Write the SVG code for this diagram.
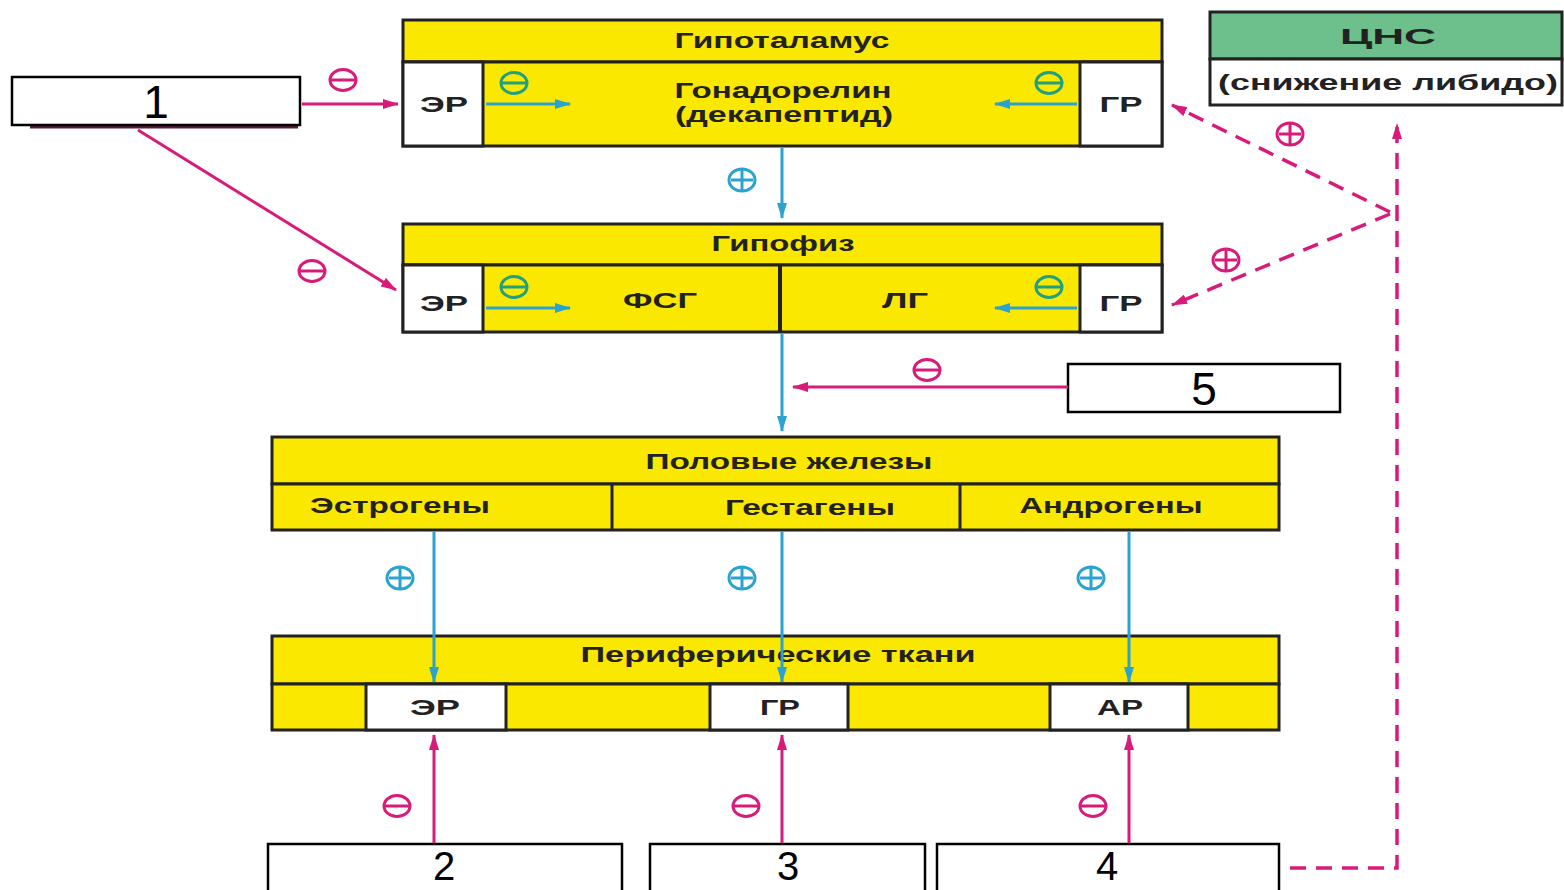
<svg xmlns="http://www.w3.org/2000/svg" xmlns:xlink="http://www.w3.org/1999/xlink" width="1564" height="890" viewBox="0 0 1564 890">
<style>
.y{fill:#fbe800;stroke:#222;stroke-width:3}
.w{fill:#fff;stroke:#222;stroke-width:3}
.nb{fill:#fff;stroke:#000;stroke-width:2.5}
.t{font-family:"Liberation Sans",Arial,sans-serif;font-weight:bold;font-size:22px;fill:#222;text-anchor:middle}
.n{font-family:"Liberation Sans",Arial,sans-serif;font-size:46px;fill:#000;text-anchor:middle}
.nb2{font-family:"Liberation Sans",Arial,sans-serif;font-size:40px;fill:#000;text-anchor:middle}
.pk{stroke:#d81b7a;stroke-width:3;fill:none}
.bl{stroke:#2aa3d0;stroke-width:3;fill:none}
.dash{stroke:#d81b7a;stroke-width:3.5;fill:none;stroke-dasharray:16 10}
</style>
<defs>
<marker id="apl" markerWidth="16" markerHeight="10" refX="15" refY="5" orient="auto" markerUnits="userSpaceOnUse" viewBox="0 0 16 10"><path d="M0,0 L16,5 L0,10 Z" fill="#d81b7a"/></marker>
<marker id="ab" markerWidth="16" markerHeight="10" refX="15" refY="5" orient="auto" markerUnits="userSpaceOnUse" viewBox="0 0 16 10"><path d="M0,0 L16,5 L0,10 Z" fill="#2aa3d0"/></marker>
<g id="mp"><ellipse cx="0" cy="0" rx="13" ry="10.5" fill="none" stroke="#d81b7a" stroke-width="3"/><line x1="-12" y1="0" x2="12" y2="0" stroke="#d81b7a" stroke-width="3"/></g>
<g id="mg"><ellipse cx="0" cy="0" rx="13" ry="10.5" fill="none" stroke="#1fa080" stroke-width="3"/><line x1="-12" y1="0" x2="12" y2="0" stroke="#1fa080" stroke-width="3"/></g>
<g id="pb"><ellipse cx="0" cy="0" rx="13" ry="11" fill="none" stroke="#2aa3d0" stroke-width="3"/><line x1="-11" y1="0" x2="11" y2="0" stroke="#2aa3d0" stroke-width="3"/><line x1="0" y1="-10" x2="0" y2="10" stroke="#2aa3d0" stroke-width="3"/></g>
<g id="pp"><ellipse cx="0" cy="0" rx="13" ry="11" fill="none" stroke="#d81b7a" stroke-width="3"/><line x1="-11" y1="0" x2="11" y2="0" stroke="#d81b7a" stroke-width="3"/><line x1="0" y1="-10" x2="0" y2="10" stroke="#d81b7a" stroke-width="3"/></g>
</defs>
<rect width="1564" height="890" fill="#fff"/>

<g id="hypothalamus">
<rect class="y" x="403" y="20" width="759" height="42"/>
<rect class="y" x="403" y="62" width="759" height="84"/>
<rect class="w" x="403" y="62" width="80" height="84"/>
<rect class="w" x="1080" y="62" width="82" height="84"/>
<text class="t" x="782" y="48" textLength="215" lengthAdjust="spacingAndGlyphs">Гипоталамус</text>
<text class="t" x="783" y="98" textLength="217" lengthAdjust="spacingAndGlyphs">Гонадорелин</text>
<text class="t" x="784" y="122" textLength="218" lengthAdjust="spacingAndGlyphs">(декапептид)</text>
<text class="t" x="444" y="112" textLength="48" lengthAdjust="spacingAndGlyphs">ЭР</text>
<text class="t" x="1121" y="112" textLength="43" lengthAdjust="spacingAndGlyphs">ГР</text>
</g>

<g id="cns">
<rect x="1210" y="12" width="352" height="47" fill="#6dbf8c" stroke="#222" stroke-width="3"/>
<rect class="w" x="1210" y="59" width="352" height="46"/>
<text class="t" x="1388" y="44" font-size="26" textLength="96" lengthAdjust="spacingAndGlyphs">ЦНС</text>
<text class="t" x="1388" y="90" textLength="340" lengthAdjust="spacingAndGlyphs">(снижение либидо)</text>
</g>

<g id="pituitary">
<rect class="y" x="403" y="224" width="759" height="41"/>
<rect class="y" x="403" y="265" width="759" height="67"/>
<line x1="780" y1="265" x2="780" y2="332" stroke="#222" stroke-width="4"/>
<rect class="w" x="403" y="265" width="80" height="67"/>
<rect class="w" x="1080" y="265" width="82" height="67"/>
<text class="t" x="783" y="251" textLength="143" lengthAdjust="spacingAndGlyphs">Гипофиз</text>
<text class="t" x="660" y="308" textLength="74" lengthAdjust="spacingAndGlyphs">ФСГ</text>
<text class="t" x="905" y="308" textLength="46" lengthAdjust="spacingAndGlyphs">ЛГ</text>
<text class="t" x="444" y="311" textLength="48" lengthAdjust="spacingAndGlyphs">ЭР</text>
<text class="t" x="1121" y="311" textLength="43" lengthAdjust="spacingAndGlyphs">ГР</text>
</g>

<g id="gonads">
<rect class="y" x="272" y="437" width="1007" height="47"/>
<rect class="y" x="272" y="484" width="1007" height="46"/>
<line x1="612" y1="484" x2="612" y2="530" stroke="#222" stroke-width="3"/>
<line x1="960" y1="484" x2="960" y2="530" stroke="#222" stroke-width="3"/>
<text class="t" x="789" y="469" textLength="287" lengthAdjust="spacingAndGlyphs">Половые железы</text>
<text class="t" x="400" y="513" textLength="180" lengthAdjust="spacingAndGlyphs">Эстрогены</text>
<text class="t" x="810" y="515" textLength="170" lengthAdjust="spacingAndGlyphs">Гестагены</text>
<text class="t" x="1111" y="513" textLength="183" lengthAdjust="spacingAndGlyphs">Андрогены</text>
</g>

<g id="peripheral">
<rect class="y" x="272" y="636" width="1007" height="48"/>
<rect class="y" x="272" y="684" width="1007" height="46"/>
<rect class="w" x="366" y="684" width="140" height="46"/>
<rect class="w" x="710" y="684" width="138" height="46"/>
<rect class="w" x="1050" y="684" width="138" height="46"/>
<text class="t" x="778" y="662" textLength="395" lengthAdjust="spacingAndGlyphs">Периферические ткани</text>
<text class="t" x="435" y="715" textLength="50" lengthAdjust="spacingAndGlyphs">ЭР</text>
<text class="t" x="780" y="715" textLength="40" lengthAdjust="spacingAndGlyphs">ГР</text>
<text class="t" x="1120" y="715" textLength="46" lengthAdjust="spacingAndGlyphs">АР</text>
</g>

<g id="box1">
<line x1="30" y1="127" x2="298" y2="127" stroke="#5a1a3a" stroke-width="3"/>
<rect class="nb" x="12" y="77" width="288" height="48"/>
<text class="n" x="156" y="118">1</text>
</g>
<g id="box5">
<rect class="nb" x="1068" y="364" width="272" height="48"/>
<text class="n" x="1204" y="405">5</text>
</g>
<g id="box2">
<rect class="nb" x="268" y="844" width="354" height="50"/>
<text class="nb2" x="444" y="880">2</text>
</g>
<g id="box3">
<rect class="nb" x="650" y="844" width="275" height="50"/>
<text class="nb2" x="788" y="880">3</text>
</g>
<g id="box4">
<rect class="nb" x="937" y="844" width="342" height="50"/>
<text class="nb2" x="1107" y="880">4</text>
</g>

<g id="connectors">
<line class="pk" x1="302" y1="104" x2="398" y2="104" marker-end="url(#apl)"/>
<line class="pk" x1="138" y1="130" x2="396" y2="290" marker-end="url(#apl)"/>
<line class="bl" x1="486" y1="104" x2="570" y2="104" marker-end="url(#ab)"/>
<line class="bl" x1="1077" y1="104" x2="995" y2="104" marker-end="url(#ab)"/>
<line class="bl" x1="486" y1="308" x2="570" y2="308" marker-end="url(#ab)"/>
<line class="bl" x1="1077" y1="308" x2="995" y2="308" marker-end="url(#ab)"/>
<line class="bl" x1="782" y1="148" x2="782" y2="218" marker-end="url(#ab)"/>
<line class="bl" x1="782" y1="334" x2="782" y2="431" marker-end="url(#ab)"/>
<line class="pk" x1="1068" y1="387" x2="793" y2="387" marker-end="url(#apl)"/>
<line class="bl" x1="434" y1="531" x2="434" y2="682" marker-end="url(#ab)"/>
<line class="bl" x1="782" y1="531" x2="782" y2="682" marker-end="url(#ab)"/>
<line class="bl" x1="1129" y1="531" x2="1129" y2="682" marker-end="url(#ab)"/>
<line class="pk" x1="434" y1="843" x2="434" y2="735" marker-end="url(#apl)"/>
<line class="pk" x1="782" y1="843" x2="782" y2="735" marker-end="url(#apl)"/>
<line class="pk" x1="1129" y1="843" x2="1129" y2="735" marker-end="url(#apl)"/>
<polyline class="dash" points="1290,868 1397,868 1397,124" marker-end="url(#apl)"/>
<line class="dash" x1="1390" y1="212" x2="1172" y2="105" marker-end="url(#apl)"/>
<line class="dash" x1="1390" y1="214" x2="1172" y2="305" marker-end="url(#apl)"/>
</g>

<g id="signs">
<use href="#mp" x="343" y="80"/>
<use href="#mp" x="312" y="271"/>
<use href="#mg" x="514" y="83"/>
<use href="#mg" x="1049" y="83"/>
<use href="#mg" x="514" y="287"/>
<use href="#mg" x="1049" y="287"/>
<use href="#pb" x="742" y="180"/>
<use href="#mp" x="927" y="370"/>
<use href="#pb" x="400" y="578"/>
<use href="#pb" x="742" y="578"/>
<use href="#pb" x="1091" y="578"/>
<use href="#mp" x="397" y="806"/>
<use href="#mp" x="746" y="806"/>
<use href="#mp" x="1093" y="806"/>
<use href="#pp" x="1290" y="134"/>
<use href="#pp" x="1226" y="260"/>
</g>
</svg>
